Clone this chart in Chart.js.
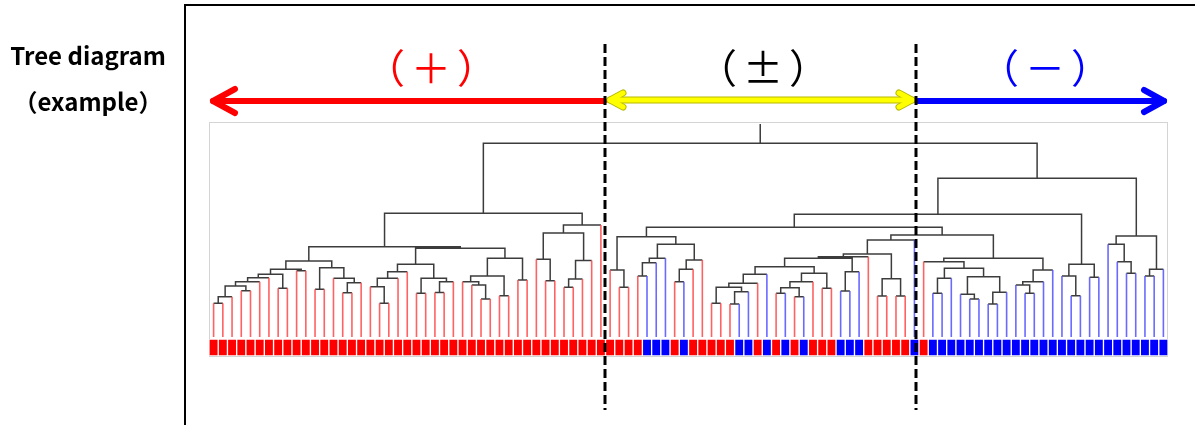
<!DOCTYPE html>
<html><head><meta charset="utf-8">
<script src="https://cdn.jsdelivr.net/npm/chart.js@4.4.1/dist/chart.umd.min.js"></script>
<style>
html,body{margin:0;padding:0;background:#fff;}
#wrap{position:relative;width:1195px;height:425px;overflow:hidden;background:#fff;}
#c{position:absolute;left:0;top:0;}
.t{position:absolute;font-family:"Noto Sans CJK JP","Noto Sans",sans-serif;white-space:nowrap;transform:translate(-50%,-50%);line-height:1;}
</style></head><body>
<div id="wrap">
<canvas id="c" width="1195" height="425"></canvas>
<div class="t" style="left:88px;top:55px;font-size:24px;font-weight:bold;color:#000;">Tree diagram</div>
<div class="t" style="left:88px;top:101px;font-size:24px;font-weight:bold;color:#000;">（example）</div>
<div class="t" style="left:434px;top:66px;font-size:40px;color:#ff0000;letter-spacing:6px;">（＋）</div>
<div class="t" style="left:766px;top:66px;font-size:40px;color:#000;letter-spacing:6px;">（±）</div>
<div class="t" style="left:1048px;top:66px;font-size:40px;color:#0000ff;letter-spacing:6px;">（－）</div>
</div>
<script>
// ---- data ----
// class of each leaf (r = positive / red, b = negative / blue), in dendrogram order
const leafClass = [
 'r','r','r','r','r','r','r','r','r','r','r','r','r','r','r','r','r','r','r','r',
 'r','r','r','r','r','r','r','r','r','r','r','r','r','r','r','r','r','r','r','r',
 'r','r','r','r','r','r','r','b','b','b','r','b','r','r','r','r','r','b','b','r',
 'b','r','b','r','b','r','r','r','b','b','b','r','r','r','r','r','b','r','b','b',
 'b','b','b','b','b','b','b','b','b','b','b','b','b','b','b','b','b','b','b','b',
 'b','b','b','b'
];
// merges: [node id, left child, right child, merge height]; numbers are leaf indices
const merges = [
 ['a1',0,1,33.7],['a2','a1',2,40.3],['a3',3,4,46.3],['a4','a2','a3',51],
 ['a5','a4',5,55.3],['a6','a5',6,59.3],['a7',7,8,48.7],['a8','a6','a7',62.7],
 ['a9',9,10,66.3],['a10','a8','a9',67.7],
 ['b1',11,12,47.7],['b2',14,15,44.3],['b3','b2',16,54.3],['b4',13,'b3',58.7],
 ['b5','b1','b4',69.3],['c0','a10','b5',76],
 ['d1',18,19,33.7],['d2',17,'d1',50.3],['d3','d2',20,58.7],['d4','d3',21,65.3],
 ['e1',22,23,43.7],['e2',24,25,44.5],['e3','e2',26,55.3],['e4','e1','e3',58.7],
 ['f0','d4','e4',72.7],
 ['g1',29,30,38],['g2',28,'g1',52],['g3',27,'g2',55.3],['g4',31,32,41.3],
 ['g5','g3','g4',61],['g6',33,34,57],['g7','g5','g6',78.7],
 ['T','f0','g7',88.7],['Q','c0','T',90.3],
 ['h1',36,37,56.3],['h2',35,'h1',77.7],['h3',38,39,49.7],['h4','h3',40,58],
 ['h5','h4',41,76.5],['h6','h2','h5',104],['S','h6',42,112],['R','Q','S',123.7],
 ['i1',44,45,49.7],['i2',43,'i1',67],['i3',46,47,61],['i4','i3',48,74.3],
 ['i5','i4',49,78.7],['i6',50,51,55.3],['i7','i6',52,67.7],['i8','i7',53,77],
 ['i9','i5','i8',92.7],['i10','i2','i9',100.3],
 ['j1',54,55,33.7],['j2',56,57,33],['j3','j2',58,45.3],['j4','j1','j3',49.7],
 ['j5','j4',59,53.7],['j6','j5',60,62.7],
 ['k1',61,62,43.7],['k2',63,64,40.3],['k3','k1','k2',49.3],['k4','k3',65,55.3],
 ['k5',66,67,48.7],['k6','k4','k5',63.7],
 ['m1','j6','k6',70.3],['m2',68,69,46],['m3','m2',70,65.3],['m4','m1','m3',78.7],
 ['m5','m4',71,80.3],['n1',72,73,41],['n2',74,75,41],['n3','n1','n2',58.3],
 ['m6','m5','n3',83],['m7','m6',76,97],
 ['p1',78,79,43.7],['p2','p1',80,58.7],['p3',82,83,38],['p4',81,'p3',42.7],
 ['p5',84,85,33],['p6','p5',86,44.7],['p7','p4','p6',60.3],['p8','p2','p7',68.7],
 ['p9',77,'p8',75.3],['q1',88,89,43.7],['q2',87,'q1',52],['q3','q2',90,55.3],
 ['q4','q3',91,67],['p10','p9','q4',78.7],
 ['r1','m7','p10',102],['r2','i10','r1',109.7],
 ['s1',93,94,41.3],['s2',92,'s1',61],['s3',95,96,59.7],['s4','s2','s3',72.7],
 ['r3','r2','s4',122.7],
 ['t1',99,100,63.7],['t2',98,'t1',75.3],['t3',97,'t2',92.7],['t4',101,102,61],
 ['t5','t4',103,67.7],['t6','t3','t5',101],
 ['r4','r3','t6',158.7],['root','R','r4',193.7]
];
const rootTop = 213;          // top of the root stem
const stripRange = [-19, -2]; // class strip below the leaves
const classColors = {r:'#ff0000', b:'#0000ff'};
const stemColors = {r:'rgba(255,70,70,0.85)', b:'rgba(80,80,255,0.85)'};

// ---- build dendrogram geometry from the merge table ----
const pos = {}, hgt = {}, leafTop = new Array(leafClass.length).fill(0);
leafClass.forEach((c,i)=>{pos[i]=i;hgt[i]=0;});
const tree = [];
const gap = {x:null,y:null};
merges.forEach(([id,l,r,h])=>{
  pos[id]=(pos[l]+pos[r])/2; hgt[id]=h;
  const isLeafL = typeof l==='number', isLeafR = typeof r==='number';
  if(isLeafL) leafTop[l]=h; if(isLeafR) leafTop[r]=h;
  if(!isLeafL) tree.push({x:pos[l],y:hgt[l]});
  tree.push({x:pos[l],y:h},{x:pos[r],y:h});
  if(!isLeafR) tree.push({x:pos[r],y:hgt[r]});
  tree.push(gap);
});
tree.push({x:pos.root,y:hgt.root},{x:pos.root,y:rootTop});
const stems = {r:[], b:[]};
leafClass.forEach((c,i)=>{ stems[c].push({x:i,y:0},{x:i,y:leafTop[i]},gap); });
const strip = leafClass.map((c,i)=>({x:i, y:stripRange}));

const overlay = {
  id:'overlay',
  beforeDatasetsDraw(chart){
    const {ctx,chartArea:a}=chart;
    ctx.save(); ctx.strokeStyle='#d4d4d4'; ctx.lineWidth=1;
    ctx.strokeRect(a.left+0.5,a.top+0.5,a.right-a.left-1,a.bottom-a.top);
    ctx.restore();
  },
  afterDraw(chart){
    const ctx=chart.ctx;
    ctx.save();
    ctx.strokeStyle='#000'; ctx.lineWidth=2;
    ctx.beginPath(); ctx.moveTo(185,425); ctx.lineTo(185,5); ctx.lineTo(1195,5); ctx.stroke();
    ctx.lineCap='round'; ctx.lineJoin='round';
    function arrow(color,w,x1,x2,y,left,right,hl,hh){
      ctx.strokeStyle=color; ctx.lineWidth=w;
      ctx.beginPath(); ctx.moveTo(x1,y); ctx.lineTo(x2,y); ctx.stroke();
      if(left){ctx.beginPath();ctx.moveTo(x1+hl,y-hh);ctx.lineTo(x1,y);ctx.lineTo(x1+hl,y+hh);ctx.stroke();}
      if(right){ctx.beginPath();ctx.moveTo(x2-hl,y-hh);ctx.lineTo(x2,y);ctx.lineTo(x2-hl,y+hh);ctx.stroke();}
    }
    arrow('#ff0000',6,213,604,101,true,false,22,12);
    arrow('#b8b800',7,610,912,100,true,true,13,7);
    arrow('#ffff00',5,610,912,100,true,true,13,7);
    arrow('#0000ff',6,918,1164,101,false,true,20,11);
    ctx.lineCap='butt'; ctx.strokeStyle='#000'; ctx.lineWidth=3; ctx.setLineDash([9,4]);
    [605,916].forEach(x=>{ctx.beginPath();ctx.moveTo(x,44);ctx.lineTo(x,410);ctx.stroke();});
    ctx.restore();
  }
};

new Chart(document.getElementById('c'),{
  type:'scatter',
  data:{
    datasets:[
      {type:'bar', data: strip,
       backgroundColor: leafClass.map(c=>classColors[c]), borderColor:'rgba(255,255,255,0.55)',
       borderWidth:1, borderSkipped:false, barPercentage:1, categoryPercentage:1},
      {type:'line', data: stems.r, borderColor: stemColors.r,
       borderWidth:1.6, pointRadius:0, spanGaps:false, tension:0},
      {type:'line', data: stems.b, borderColor: stemColors.b,
       borderWidth:1.6, pointRadius:0, spanGaps:false, tension:0},
      {type:'line', data: tree, borderColor:'#3c3c3c',
       borderWidth:1.5, pointRadius:0, spanGaps:false, tension:0}
    ]
  },
  options:{
    responsive:false, animation:false, devicePixelRatio:1,
    layout:{padding:{left:209,right:27,top:122,bottom:69}},
    plugins:{legend:{display:false}, tooltip:{enabled:false}},
    scales:{
      x:{type:'linear', display:false, offset:false, grid:{offset:false}, min:-0.5, max:leafClass.length-0.5},
      y:{type:'linear', display:false, min:-19, max:215}
    }
  },
  plugins:[overlay]
});
</script>
</body></html>
